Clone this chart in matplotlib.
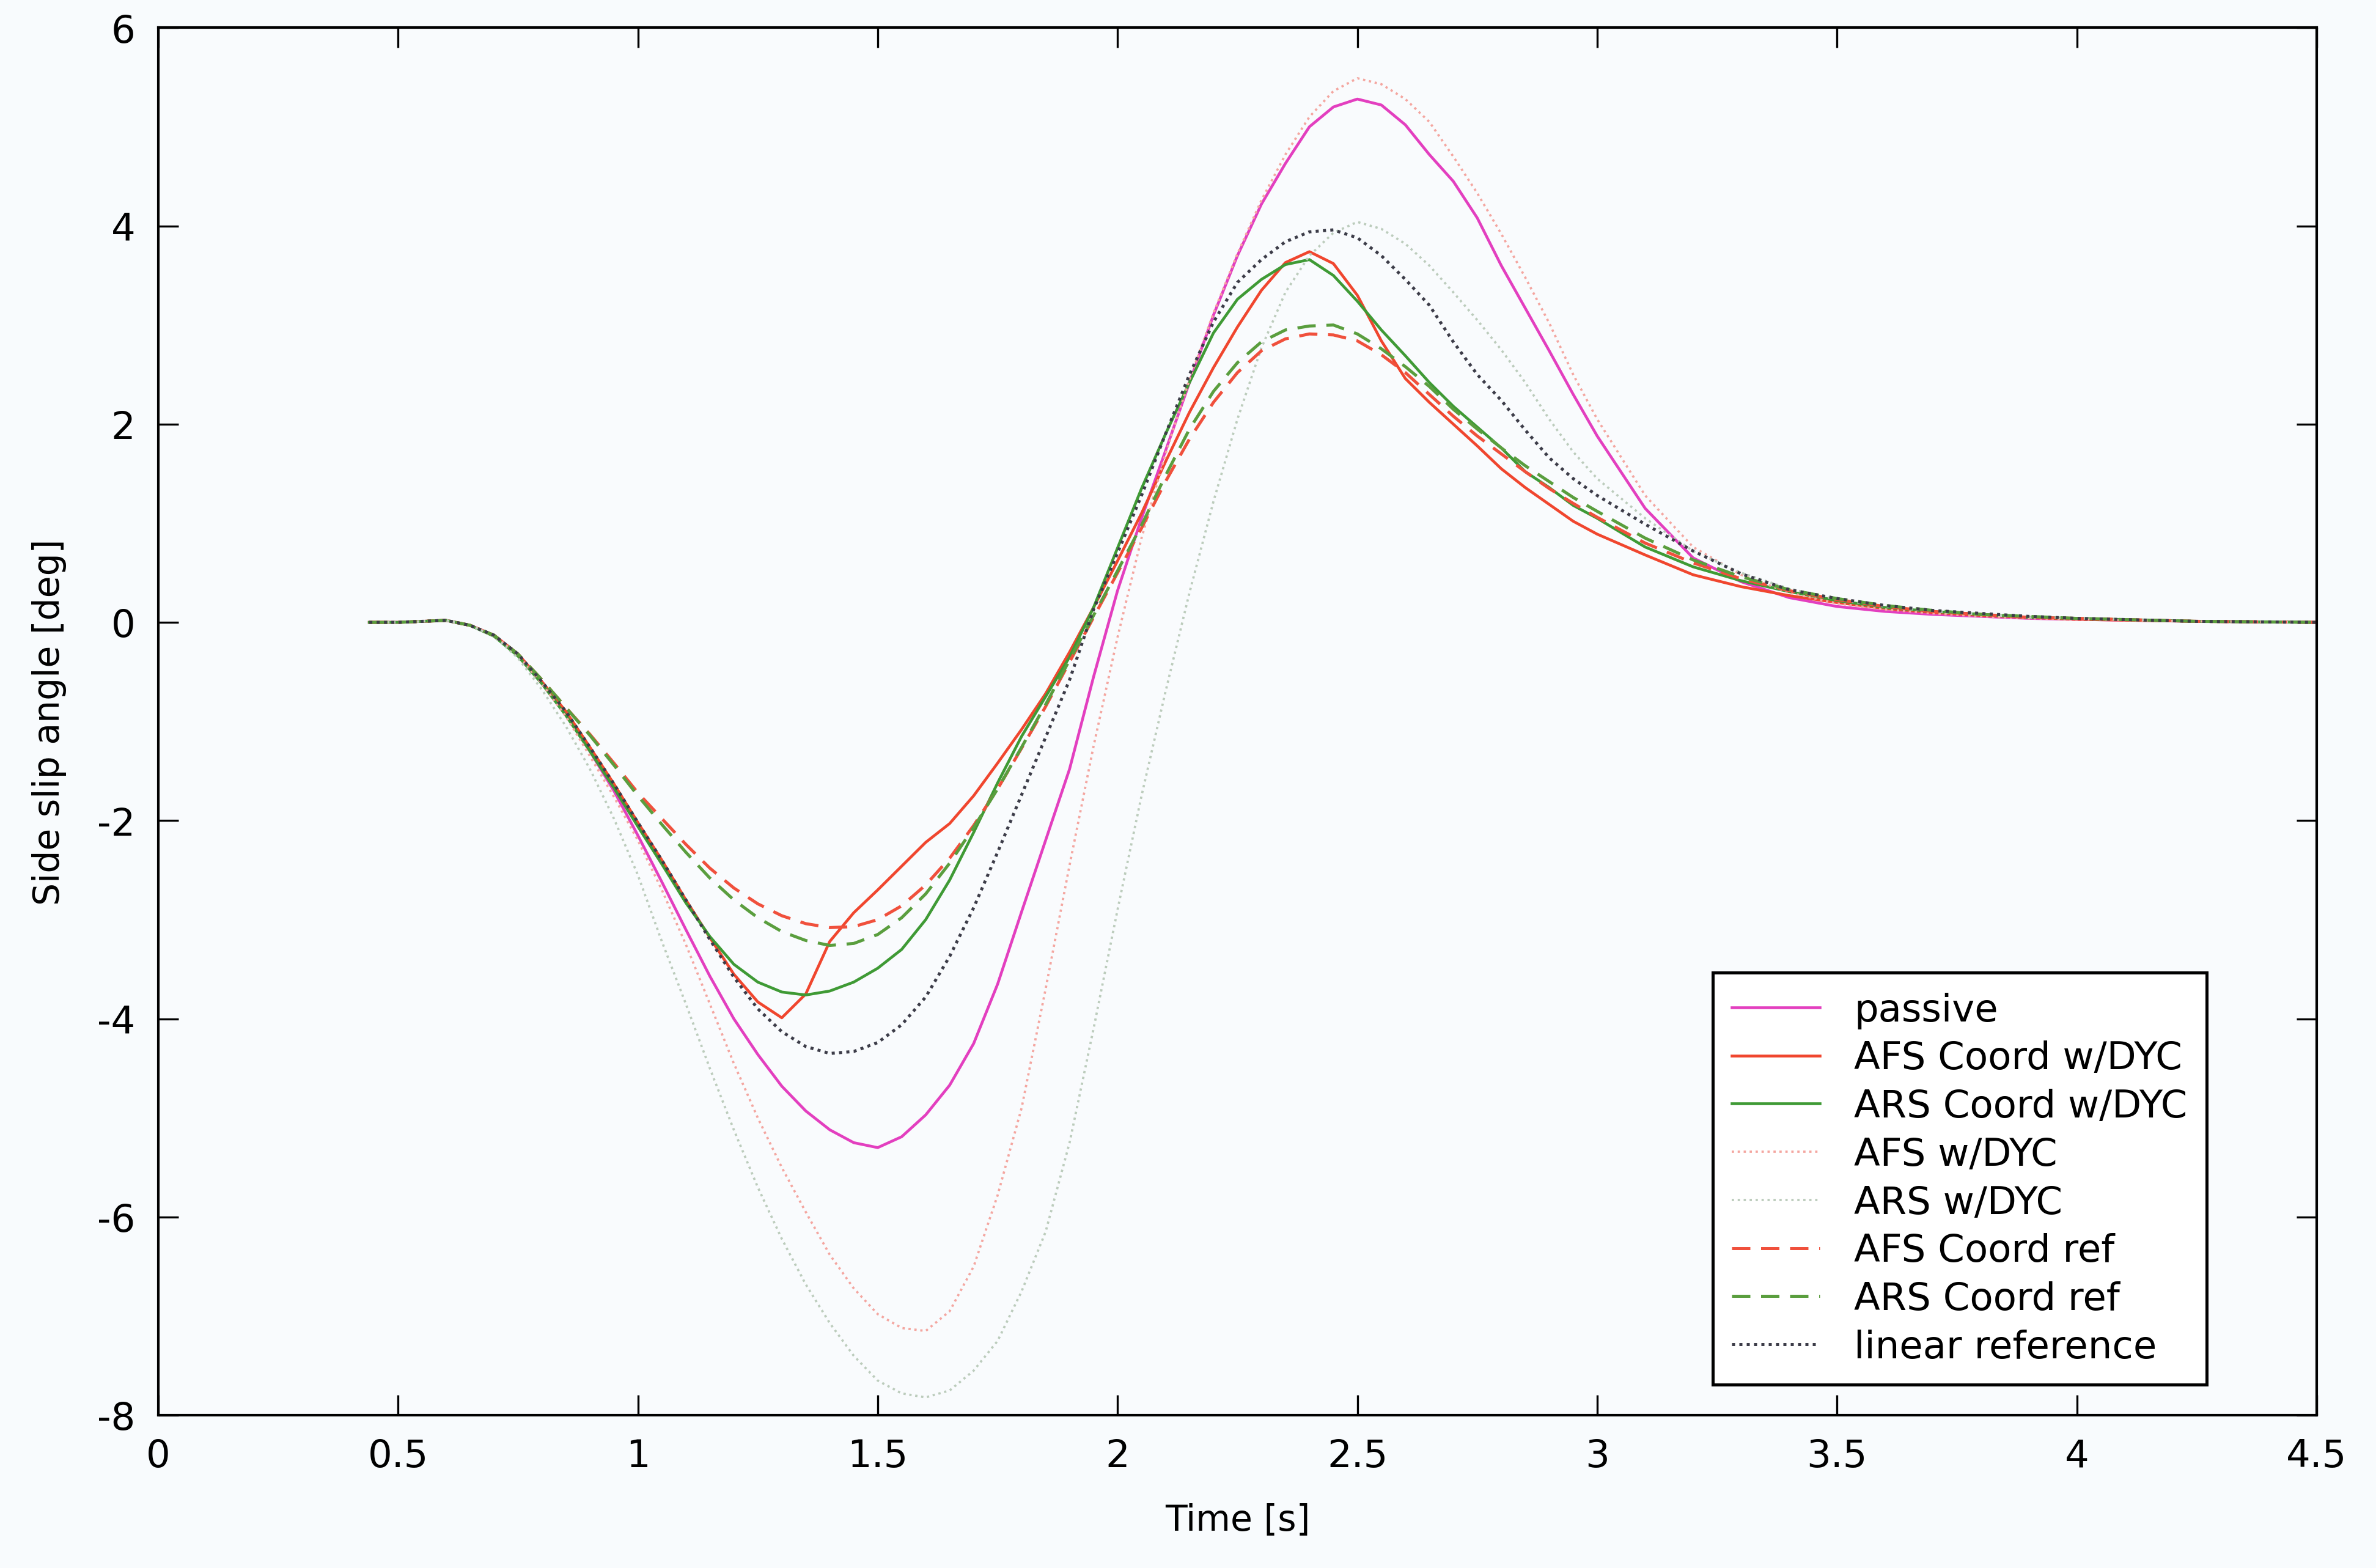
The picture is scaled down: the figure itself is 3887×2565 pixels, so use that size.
import matplotlib.pyplot as plt

plt.rcParams['font.family'] = ['DejaVu Sans']
plt.rcParams['axes.unicode_minus'] = False

# time axis [s]
t = [0.44, 0.50, 0.55, 0.60,
     0.65, 0.70, 0.75, 0.80, 0.85, 0.90, 0.95, 1.00,
     1.05, 1.10, 1.15, 1.20, 1.25, 1.30, 1.35, 1.40,
     1.45, 1.50, 1.55, 1.60, 1.65, 1.70, 1.75, 1.80,
     1.85, 1.90, 1.95, 2.00, 2.05, 2.10, 2.15, 2.20,
     2.25, 2.30, 2.35, 2.40, 2.45, 2.50, 2.55, 2.60,
     2.65, 2.70, 2.75, 2.80, 2.85, 2.90, 2.95, 3.00,
     3.10, 3.20, 3.30, 3.40, 3.50, 3.60, 3.70, 3.80, 3.90, 4.00, 4.25, 4.50]

# side slip angle [deg]
passive = [0, 0, 0.01, 0.02,
           -0.03, -0.13, -0.32, -0.60, -0.92, -1.30, -1.70, -2.15,
           -2.62, -3.10, -3.57, -4.00, -4.36, -4.68, -4.93, -5.12,
           -5.25, -5.30, -5.19, -4.97, -4.67, -4.25, -3.65, -2.92,
           -2.20, -1.48, -0.55, 0.32, 1.05, 1.73, 2.42, 3.10,
           3.70, 4.22, 4.63, 5.00, 5.20, 5.28, 5.22, 5.02,
           4.72, 4.45, 4.08, 3.60, 3.17, 2.74, 2.30, 1.88,
           1.15, 0.65, 0.41, 0.25, 0.16, 0.11, 0.08, 0.06, 0.04, 0.03, 0.01, 0.0]

afs_coord_dyc = [0, 0, 0.01, 0.02,
                 -0.03, -0.13, -0.32, -0.60, -0.90, -1.26, -1.63, -2.02,
                 -2.40, -2.80, -3.18, -3.55, -3.83, -3.99, -3.75, -3.22,
                 -2.93, -2.70, -2.46, -2.22, -2.03, -1.75, -1.42, -1.08,
                 -0.72, -0.30, 0.15, 0.62, 1.10, 1.62, 2.12, 2.57,
                 2.98, 3.35, 3.63, 3.74, 3.62, 3.30, 2.84, 2.46,
                 2.22, 2.00, 1.78, 1.55, 1.36, 1.19, 1.02, 0.89,
                 0.68, 0.48, 0.36, 0.27, 0.20, 0.14, 0.10, 0.07, 0.05, 0.03, 0.01, 0.0]

ars_coord_dyc = [0, 0, 0.01, 0.02,
                 -0.03, -0.14, -0.34, -0.62, -0.94, -1.30, -1.67, -2.06,
                 -2.44, -2.83, -3.17, -3.45, -3.63, -3.73, -3.76, -3.72,
                 -3.63, -3.49, -3.30, -3.00, -2.60, -2.12, -1.62, -1.15,
                 -0.75, -0.35, 0.15, 0.75, 1.35, 1.90, 2.42, 2.92,
                 3.26, 3.46, 3.61, 3.66, 3.50, 3.24, 2.95, 2.69,
                 2.42, 2.18, 1.97, 1.76, 1.52, 1.36, 1.18, 1.05,
                 0.76, 0.56, 0.42, 0.31, 0.22, 0.15, 0.11, 0.08, 0.05, 0.04, 0.01, 0.0]

afs_dyc = [0, 0, 0.01, 0.02,
           -0.03, -0.13, -0.33, -0.62, -0.95, -1.35, -1.76, -2.20,
           -2.70, -3.25, -3.85, -4.45, -5.00, -5.50, -5.95, -6.38,
           -6.72, -6.98, -7.12, -7.15, -6.95, -6.50, -5.78, -4.90,
           -3.70, -2.45, -1.25, -0.15, 0.85, 1.70, 2.45, 3.12,
           3.72, 4.26, 4.72, 5.10, 5.36, 5.49, 5.43, 5.28,
           5.05, 4.70, 4.33, 3.92, 3.48, 3.02, 2.50, 2.05,
           1.28, 0.76, 0.48, 0.30, 0.19, 0.13, 0.09, 0.06, 0.04, 0.03, 0.01, 0.0]

ars_dyc = [0, 0, 0.01, 0.02,
           -0.03, -0.14, -0.36, -0.68, -1.05, -1.48, -1.98, -2.55,
           -3.22, -3.85, -4.50, -5.12, -5.70, -6.22, -6.68, -7.07,
           -7.40, -7.65, -7.78, -7.82, -7.75, -7.55, -7.25, -6.75,
           -6.15, -5.25, -4.10, -2.90, -1.75, -0.70, 0.30, 1.22,
           2.05, 2.77, 3.33, 3.70, 3.93, 4.04, 3.97, 3.82,
           3.60, 3.33, 3.05, 2.75, 2.42, 2.05, 1.72, 1.45,
           1.05, 0.72, 0.50, 0.34, 0.23, 0.16, 0.11, 0.08, 0.05, 0.04, 0.01, 0.0]

afs_coord_ref = [0, 0, 0.01, 0.02,
                 -0.03, -0.13, -0.32, -0.58, -0.86, -1.13, -1.42, -1.72,
                 -1.98, -2.24, -2.48, -2.68, -2.84, -2.96, -3.04, -3.08,
                 -3.07, -3.00, -2.86, -2.65, -2.38, -2.05, -1.68, -1.27,
                 -0.85, -0.40, 0.05, 0.50, 0.95, 1.42, 1.85, 2.22,
                 2.52, 2.74, 2.86, 2.91, 2.90, 2.84, 2.70, 2.52,
                 2.30, 2.08, 1.88, 1.70, 1.52, 1.35, 1.20, 1.06,
                 0.80, 0.60, 0.44, 0.32, 0.23, 0.16, 0.11, 0.08, 0.05, 0.04, 0.01, 0.0]

ars_coord_ref = [0, 0, 0.01, 0.02,
                 -0.03, -0.13, -0.32, -0.58, -0.86, -1.14, -1.44, -1.75,
                 -2.04, -2.32, -2.58, -2.80, -2.98, -3.12, -3.21, -3.26,
                 -3.24, -3.15, -2.98, -2.74, -2.43, -2.07, -1.68, -1.26,
                 -0.83, -0.38, 0.07, 0.52, 0.98, 1.48, 1.95, 2.33,
                 2.62, 2.83, 2.95, 2.99, 3.00, 2.91, 2.76, 2.58,
                 2.38, 2.15, 1.95, 1.76, 1.58, 1.42, 1.26, 1.12,
                 0.85, 0.63, 0.46, 0.33, 0.24, 0.17, 0.12, 0.08, 0.06, 0.04, 0.01, 0.0]

linear_ref = [0, 0, 0.01, 0.02,
              -0.03, -0.13, -0.32, -0.60, -0.90, -1.26, -1.63, -2.02,
              -2.40, -2.80, -3.20, -3.58, -3.90, -4.13, -4.28, -4.35,
              -4.33, -4.24, -4.06, -3.78, -3.37, -2.88, -2.32, -1.74,
              -1.16, -0.58, 0.13, 0.70, 1.28, 1.90, 2.50, 3.03,
              3.43, 3.66, 3.84, 3.94, 3.96, 3.88, 3.70, 3.46,
              3.20, 2.83, 2.50, 2.24, 1.94, 1.66, 1.45, 1.28,
              0.99, 0.72, 0.49, 0.33, 0.24, 0.17, 0.12, 0.09, 0.06, 0.04, 0.01, 0.0]

xticks = [0, 0.5, 1, 1.5, 2, 2.5, 3, 3.5, 4, 4.5]
xticklabels = ['0', '0.5', '1', '1.5', '2', '2.5', '3', '3.5', '4', '4.5']
yticks = [-8, -6, -4, -2, 0, 2, 4, 6]


def plot_slip():
    fig = plt.figure(figsize=(12.957, 8.553), dpi=300)
    fig.patch.set_facecolor('#f8fbfd')
    ax = fig.add_axes([0.0666, 0.0974, 0.9084, 0.8846])
    ax.set_facecolor('#f9fbfd')

    ax.plot(t, passive, color='#e33fbf', lw=1.1, label='passive')
    ax.plot(t, afs_coord_dyc, color='#f0462e', lw=1.1, label='AFS Coord w/DYC')
    ax.plot(t, ars_coord_dyc, color='#3f9a35', lw=1.1, label='ARS Coord w/DYC')
    ax.plot(t, afs_dyc, color='#f4a6a0', lw=0.9, ls=(0, (1, 1.6)), label='AFS w/DYC')
    ax.plot(t, ars_dyc, color='#bcccbc', lw=0.9, ls=(0, (1, 1.6)), label='ARS w/DYC')
    ax.plot(t, afs_coord_ref, color='#f0503c', lw=1.2, ls=(0, (6, 3.5)), label='AFS Coord ref')
    ax.plot(t, ars_coord_ref, color='#5a9e3e', lw=1.2, ls=(0, (6, 3.5)), label='ARS Coord ref')
    ax.plot(t, linear_ref, color='#3c3c48', lw=1.2, ls=(0, (1, 1.4)), label='linear reference')

    ax.set_xlim(0, 4.5)
    ax.set_ylim(-8, 6)
    ax.set_xticks(xticks)
    ax.set_xticklabels(xticklabels)
    ax.set_yticks(yticks)
    ax.tick_params(direction='in', top=True, right=True, length=8, width=0.8,
                   labelsize=15, pad=9)
    for sp in ax.spines.values():
        sp.set_linewidth(1.0)

    ax.set_xlabel('Time [s]', fontsize=14, labelpad=11)
    ax.set_ylabel('Side slip angle [deg]', fontsize=14, labelpad=12)

    leg = ax.legend(loc='lower right', bbox_to_anchor=(0.949, 0.022), fontsize=15,
                    fancybox=False, framealpha=1, edgecolor='black',
                    handlelength=2.3, handletextpad=0.9, labelspacing=0.3,
                    borderpad=0.5, borderaxespad=0.0)
    leg.get_frame().set_linewidth(1.2)
    leg.get_frame().set_facecolor('white')

    plt.savefig('out.png', dpi=300, facecolor=fig.get_facecolor())
    plt.close()


if __name__ == '__main__':
    plot_slip()
